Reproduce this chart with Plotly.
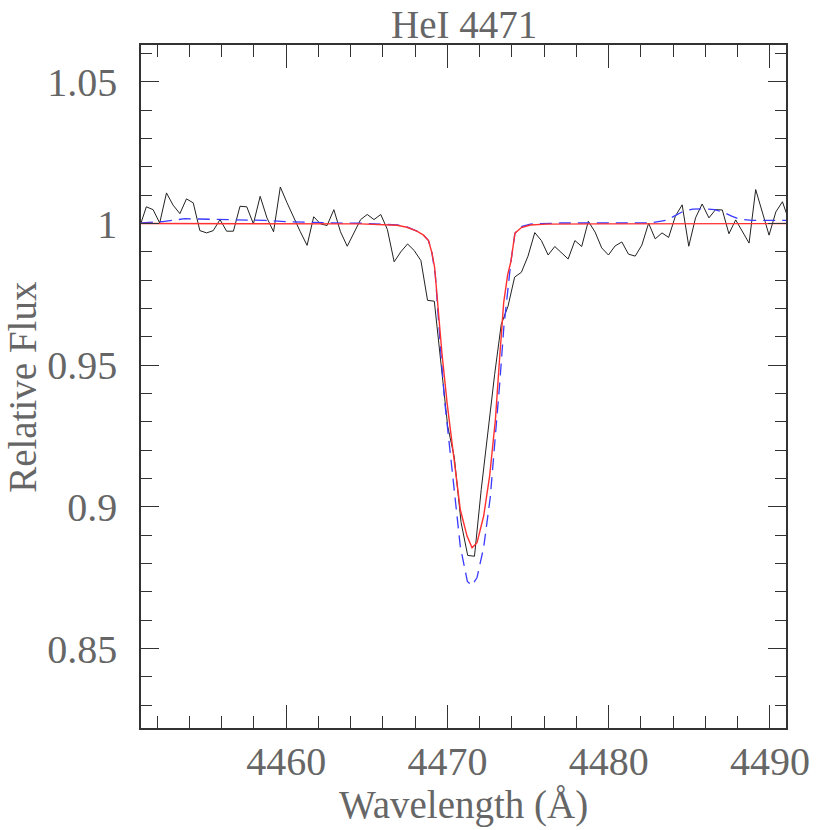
import plotly.graph_objects as go

# observed spectrum (black)
obs_wave = [4450.92, 4451.33, 4451.75, 4452.16, 4452.58, 4452.99, 4453.41, 4453.82, 4454.24, 4454.65,
            4455.07, 4455.48, 4455.90, 4456.31, 4456.73, 4457.14, 4457.56, 4457.97, 4458.39, 4458.81,
            4459.22, 4459.64, 4460.05, 4460.47, 4460.88, 4461.30, 4461.71, 4462.13, 4462.54, 4462.96,
            4463.37, 4463.79, 4464.20, 4464.62, 4465.03, 4465.45, 4465.87, 4466.28, 4466.70, 4467.11,
            4467.53, 4467.94, 4468.36, 4468.77, 4469.19, 4469.60, 4470.02, 4470.43, 4470.85, 4471.26,
            4471.68, 4472.10, 4472.51, 4472.93, 4473.34, 4473.76, 4474.17, 4474.59, 4475.00, 4475.42,
            4475.83, 4476.25, 4476.66, 4477.08, 4477.49, 4477.91, 4478.33, 4478.74, 4479.16, 4479.57,
            4479.99, 4480.40, 4480.82, 4481.23, 4481.65, 4482.06, 4482.48, 4482.89, 4483.31, 4483.72,
            4484.14, 4484.56, 4484.97, 4485.39, 4485.80, 4486.22, 4486.63, 4487.05, 4487.46, 4487.88,
            4488.29, 4488.71, 4489.12, 4489.54, 4489.95, 4490.37, 4490.78, 4491.20]
obs_flux = [0.9988, 1.0059, 1.0049, 1.0002, 1.0108, 1.0065, 1.0035, 1.0087, 1.0073, 0.9975,
            0.9967, 0.9975, 1.0014, 0.9973, 0.9973, 1.0061, 1.0059, 0.9999, 1.0096, 1.0020,
            0.9971, 1.0129, 1.0074, 1.0021, 0.9971, 0.9923, 1.0024, 0.9999, 0.9993, 1.0049,
            0.9971, 0.9920, 0.9967, 1.0014, 1.0032, 1.0014, 1.0032, 0.9979, 0.9865, 0.9900,
            0.9928, 0.9905, 0.9869, 0.9729, 0.9726, 0.9497, 0.9285, 0.9175, 0.8945, 0.8829,
            0.8826, 0.9062, 0.9273, 0.9467, 0.9644, 0.9708, 0.9811, 0.9828, 0.9885, 0.9968,
            0.9940, 0.9889, 0.9919, 0.9898, 0.9875, 0.9940, 0.9919, 1.0008, 0.9970, 0.9914,
            0.9889, 0.9921, 0.9935, 0.9892, 0.9885, 0.9924, 1.0001, 0.9946, 0.9967, 0.9951,
            1.0026, 1.0066, 0.9920, 1.0020, 1.0069, 1.0020, 1.0049, 1.0048, 0.9964, 1.0013,
            0.9973, 0.9931, 1.0120, 1.0038, 0.9959, 1.0041, 1.0077, 1.0007]

# fitted model (red)
fit_wave = [4451.00, 4460.86, 4464.59, 4466.87, 4467.49, 4468.11, 4468.52, 4468.83, 4469.04, 4469.21,
            4469.45, 4469.66, 4469.98, 4470.39, 4470.80, 4471.22, 4471.53, 4471.84, 4472.25, 4472.62,
            4472.98, 4473.22, 4473.49, 4473.74, 4473.94, 4474.19, 4474.59, 4475.15, 4476.14, 4479.50,
            4491.05]
fit_flux = [1.0000, 0.9999, 0.9999, 0.9994, 0.9987, 0.9973, 0.9959, 0.9940, 0.9897, 0.9845,
            0.9685, 0.9544, 0.9368, 0.9179, 0.8991, 0.8897, 0.8856, 0.8874, 0.8968, 0.9109,
            0.9309, 0.9509, 0.9720, 0.9820, 0.9866, 0.9966, 0.9986, 0.9995, 0.9998, 0.9999,
            1.0000]

# second model (blue dashed)
mod_wave = [4451.00, 4452.35, 4453.72, 4455.09, 4456.20, 4457.45, 4458.69, 4459.93, 4460.99, 4462.91,
            4464.78, 4466.89, 4467.49, 4468.11, 4468.52, 4468.83, 4469.04, 4469.25, 4469.54, 4469.82,
            4470.29, 4470.80, 4471.24, 4471.52, 4471.84, 4472.25, 4472.66, 4472.98, 4473.25, 4473.50,
            4473.75, 4473.94, 4474.19, 4474.42, 4474.63, 4475.15, 4477.01, 4479.50, 4482.60, 4483.60,
            4484.09, 4484.59, 4485.21, 4485.96, 4486.58, 4487.20, 4487.63, 4488.13, 4488.88, 4489.93,
            4491.05]
mod_flux = [1.0002, 1.0007, 1.0017, 1.0016, 1.0013, 1.0012, 1.0011, 1.0007, 1.0005, 1.0002,
            1.0001, 0.9995, 0.9988, 0.9973, 0.9959, 0.9940, 0.9897, 0.9820, 0.9587, 0.9379,
            0.9132, 0.8861, 0.8737, 0.8723, 0.8751, 0.8857, 0.9034, 0.9238, 0.9439, 0.9633,
            0.9774, 0.9866, 0.9965, 0.9981, 0.9990, 0.9998, 1.0002, 1.0002, 1.0002, 1.0012,
            1.0028, 1.0042, 1.0051, 1.0052, 1.0049, 1.0038, 1.0026, 1.0015, 1.0011, 1.0011,
            1.0011]

x_ticks = [4460, 4470, 4480, 4490]
y_ticks = [0.85, 0.9, 0.95, 1.0, 1.05]
y_labels = ["0.85", "0.9", "0.95", "1", "1.05"]

font_name = "Liberation Serif"
grey = "#666666"
axis_col = "#333333"

fig = go.Figure()
fig.add_trace(go.Scatter(x=obs_wave, y=obs_flux, mode="lines",
                         line=dict(color="#222222", width=1)))
fig.add_trace(go.Scatter(x=mod_wave, y=mod_flux, mode="lines",
                         line=dict(color="#3a3aff", width=1.3, dash="12px,7px")))
fig.add_trace(go.Scatter(x=fit_wave, y=fit_flux, mode="lines",
                         line=dict(color="#ff3030", width=1.4)))

fig.update_xaxes(range=[4451, 4491], tickvals=x_ticks, ticks="inside", ticklen=23,
                 tickcolor=axis_col, tickwidth=1, showline=True, linecolor=axis_col,
                 linewidth=1.5, mirror="ticks", showgrid=False, zeroline=False,
                 automargin=False, ticklabelstandoff=-3,
                 minor=dict(dtick=2, tick0=4450, ticks="inside", ticklen=12,
                            tickcolor=axis_col, showgrid=False),
                 tickfont=dict(family=font_name, size=40, color=grey))
fig.update_yaxes(range=[0.822, 1.063], tickvals=y_ticks, ticktext=y_labels, ticks="inside",
                 ticklen=18, tickcolor=axis_col, tickwidth=1, showline=True,
                 linecolor=axis_col, linewidth=1.5, mirror="ticks", showgrid=False,
                 zeroline=False, ticklabelstandoff=14, automargin=False,
                 minor=dict(dtick=0.01, tick0=0.8, ticks="inside", ticklen=11,
                            tickcolor=axis_col, showgrid=False),
                 tickfont=dict(family=font_name, size=40, color=grey))

title_font = dict(family=font_name, size=39, color=grey)
fig.add_annotation(text="HeI 4471", xref="paper", yref="paper", x=0.5, y=1.064,
                   xanchor="center", yanchor="top", showarrow=False, font=title_font)
fig.add_annotation(text="Wavelength (Å)", xref="paper", yref="paper", x=0.5, y=-0.113,
                   xanchor="center", yanchor="middle", showarrow=False, font=title_font)
fig.add_annotation(text="Relative Flux", xref="paper", yref="paper", x=-0.184, y=0.5,
                   xanchor="center", yanchor="middle", textangle=-90, showarrow=False,
                   font=title_font)

fig.update_layout(
    width=830, height=830,
    margin=dict(l=141, r=44, t=45, b=102, autoexpand=False),
    paper_bgcolor="white", plot_bgcolor="white",
    showlegend=False,
)

# drop the default page margin so the figure fills the window from its corner
fig.write_html("out.html", config={"displayModeBar": False},
               post_script="document.body.style.margin = '0';")
